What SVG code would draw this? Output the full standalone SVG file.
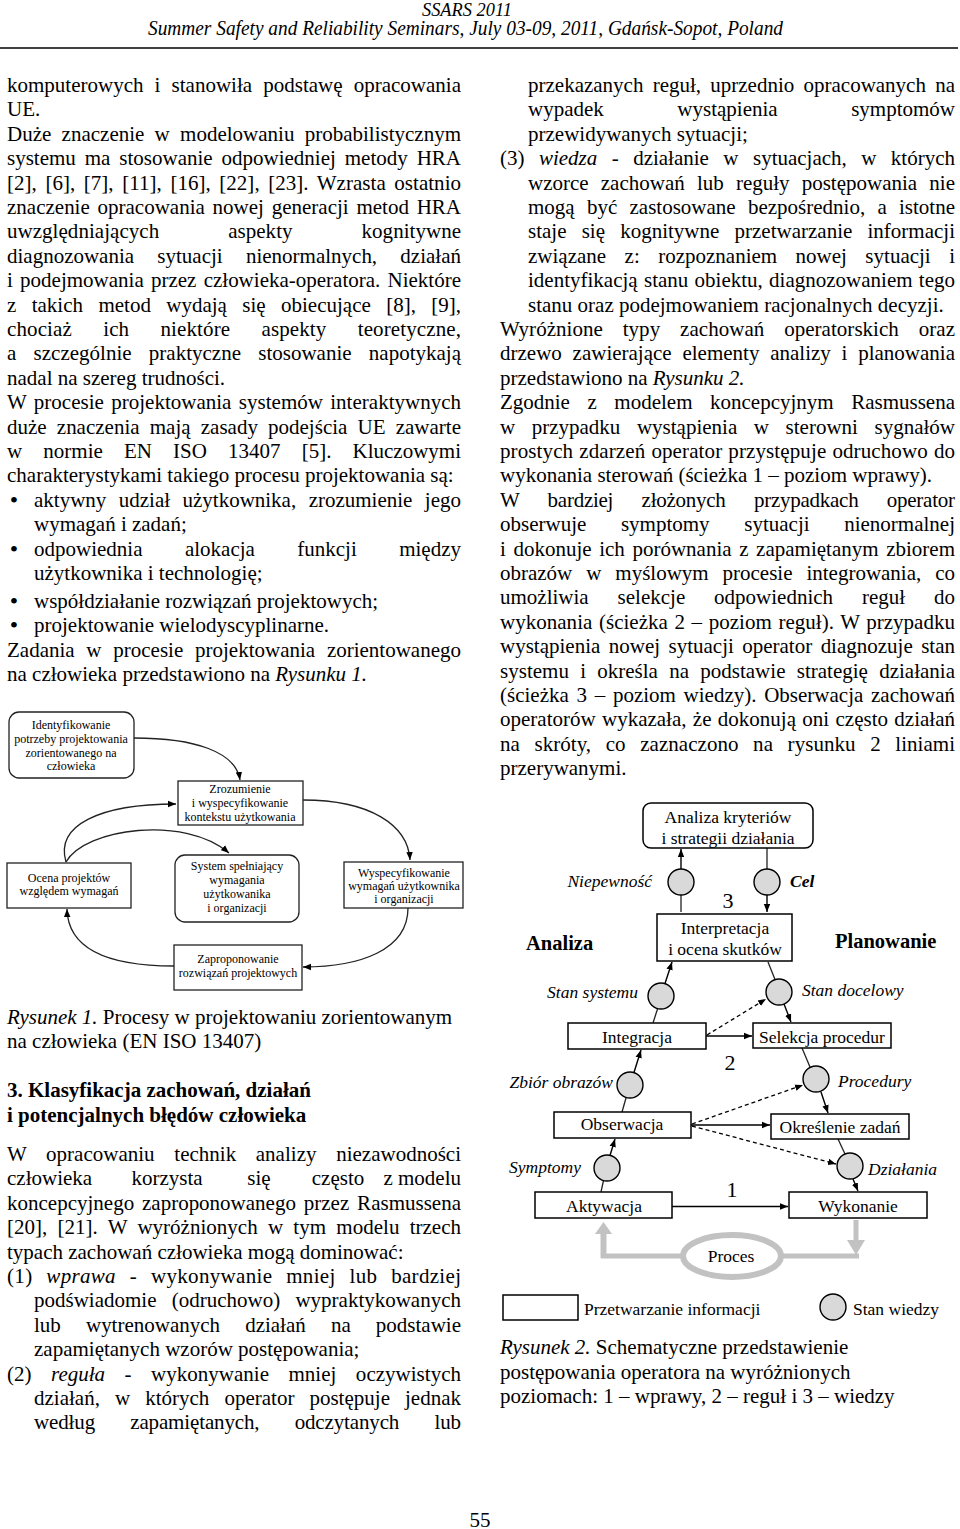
<svg xmlns="http://www.w3.org/2000/svg" width="960" height="1529" viewBox="0 0 960 1529">
<style>
text{font-family:"Liberation Serif","Times New Roman",serif;fill:#000}
.t{font-size:21px}
.i{font-style:italic}
.b{font-weight:bold}
.s{font-size:12px;text-anchor:middle}
.f{font-size:17.5px}
.m{text-anchor:middle}
.e{text-anchor:end}
.box{fill:#fff;stroke:#222;stroke-width:1.3}
.box2{fill:#fff;stroke:#000;stroke-width:1.5}
.ks{fill:#d9d9d9;stroke:#000;stroke-width:1.4}
.ln{fill:none;stroke:#222;stroke-width:1.3}
.ar{fill:none;stroke:#000;stroke-width:1.4;marker-end:url(#a)}
.ar1{fill:none;stroke:#222;stroke-width:1.3;marker-end:url(#a)}
.da{fill:none;stroke:#000;stroke-width:1.3;stroke-dasharray:4 3;marker-end:url(#a)}
.gr{fill:none;stroke:#c2c2c2}
</style>
<defs>
<marker id="a" viewBox="0 0 10 10" refX="10" refY="5" markerWidth="8" markerHeight="8" markerUnits="userSpaceOnUse" orient="auto"><path d="M0,1 L10,5 L0,9 z" fill="#000"/></marker>
</defs>
<rect width="960" height="1529" fill="#fff"/>

<!-- header -->
<g id="header">
<text class="i" x="422" y="16" font-size="19" textLength="90" lengthAdjust="spacingAndGlyphs">SSARS 2011</text>
<text class="i" x="148" y="35" font-size="20" textLength="635" lengthAdjust="spacingAndGlyphs">Summer Safety and Reliability Seminars, July 03-09, 2011, Gdańsk-Sopot, Poland</text>
<line x1="0" y1="48" x2="958" y2="48" stroke="#000" stroke-width="1.5"/>
</g>

<!-- left column -->
<g id="left-column" class="t">
<text x="7" y="92" word-spacing="5.9" textLength="454" lengthAdjust="spacing">komputerowych i stanowiła podstawę opracowania</text>
<text x="7" y="116.4">UE.</text>
<text x="7" y="140.8" word-spacing="5" textLength="454" lengthAdjust="spacing">Duże znaczenie w modelowaniu probabilistycznym</text>
<text x="7" y="165.2" word-spacing="3.7" textLength="454" lengthAdjust="spacing">systemu ma stosowanie odpowiedniej metody HRA</text>
<text x="7" y="189.6" word-spacing="3.3" textLength="454" lengthAdjust="spacing">[2], [6], [7], [11], [16], [22], [23]. Wzrasta ostatnio</text>
<text x="7" y="214" word-spacing="2.5" textLength="454" lengthAdjust="spacing">znaczenie opracowania nowej generacji metod HRA</text>
<text x="7" y="238.4" word-spacing="63.7" textLength="454" lengthAdjust="spacing">uwzględniających aspekty kognitywne</text>
<text x="7" y="262.8" word-spacing="18" textLength="454" lengthAdjust="spacing">diagnozowania sytuacji nienormalnych, działań</text>
<text x="7" y="287.2" word-spacing="2" textLength="454" lengthAdjust="spacing">i podejmowania przez człowieka-operatora. Niektóre</text>
<text x="7" y="311.6" word-spacing="10.1" textLength="454" lengthAdjust="spacing">z takich metod wydają się obiecujące [8], [9],</text>
<text x="7" y="336" word-spacing="25.9" textLength="454" lengthAdjust="spacing">chociaż ich niektóre aspekty teoretyczne,</text>
<text x="7" y="360.4" word-spacing="12" textLength="454" lengthAdjust="spacing">a szczególnie praktyczne stosowanie napotykają</text>
<text x="7" y="384.8">nadal na szereg trudności.</text>
<text x="7" y="409.2" word-spacing="2.1" textLength="454" lengthAdjust="spacing">W procesie projektowania systemów interaktywnych</text>
<text x="7" y="433.6" word-spacing="4.9" textLength="454" lengthAdjust="spacing">duże znaczenia mają zasady podejścia UE zawarte</text>
<text x="7" y="458" word-spacing="15.9" textLength="454" lengthAdjust="spacing">w normie EN ISO 13407 [5]. Kluczowymi</text>
<text x="7" y="482.4">charakterystykami takiego procesu projektowania są:</text>
<text x="14" y="507.8" class="m" font-size="24">•</text>
<text x="34" y="506.8" word-spacing="7.2" textLength="427" lengthAdjust="spacing">aktywny udział użytkownika, zrozumienie jego</text>
<text x="34" y="531.2">wymagań i zadań;</text>
<text x="14" y="556.6" class="m" font-size="24">•</text>
<text x="34" y="555.6" word-spacing="37.1" textLength="427" lengthAdjust="spacing">odpowiednia alokacja funkcji między</text>
<text x="34" y="580">użytkownika i technologię;</text>
<text x="14" y="609" class="m" font-size="24">•</text>
<text x="34" y="608">współdziałanie rozwiązań projektowych;</text>
<text x="14" y="633.4" class="m" font-size="24">•</text>
<text x="34" y="632.4">projektowanie wielodyscyplinarne.</text>
<text x="7" y="656.8" word-spacing="6.5" textLength="454" lengthAdjust="spacing">Zadania w procesie projektowania zorientowanego</text>
<text x="7" y="681.2">na człowieka przedstawiono na <tspan class="i">Rysunku 1.</tspan></text>

<text x="7" y="1024"><tspan class="i">Rysunek 1.</tspan> Procesy w projektowaniu zorientowanym</text>
<text x="7" y="1048">na człowieka (EN ISO 13407)</text>
<text x="7" y="1097" class="b">3. Klasyfikacja zachowań, działań</text>
<text x="7" y="1122" class="b">i potencjalnych błędów człowieka</text>

<text x="7" y="1161" word-spacing="14.4" textLength="454" lengthAdjust="spacing">W opracowaniu technik analizy niezawodności</text>
<text x="7" y="1185.4">człowieka</text>
<text x="167" y="1185.4" class="m">korzysta</text>
<text x="259" y="1185.4" class="m">się</text>
<text x="338" y="1185.4" class="m">często</text>
<text x="461" y="1185.4" class="e">z modelu</text>
<text x="7" y="1209.8" word-spacing="2.6" textLength="454" lengthAdjust="spacing">koncepcyjnego zaproponowanego przez Rasmussena</text>
<text x="7" y="1234.2" word-spacing="5" textLength="454" lengthAdjust="spacing">[20], [21]. W wyróżnionych w tym modelu trzech</text>
<text x="7" y="1258.6">typach zachowań człowieka mogą dominować:</text>
<text x="7" y="1283" word-spacing="8.3" textLength="454" lengthAdjust="spacing">(1) <tspan class="i">wprawa</tspan> - wykonywanie mniej lub bardziej</text>
<text x="34" y="1307.4" word-spacing="10" textLength="427" lengthAdjust="spacing">podświadomie (odruchowo) wypraktykowanych</text>
<text x="34" y="1331.8" word-spacing="19.9" textLength="427" lengthAdjust="spacing">lub wytrenowanych działań na podstawie</text>
<text x="34" y="1356.2">zapamiętanych wzorów postępowania;</text>
<text x="7" y="1380.6" word-spacing="14.2" textLength="454" lengthAdjust="spacing">(2) <tspan class="i">reguła</tspan> - wykonywanie mniej oczywistych</text>
<text x="34" y="1405" word-spacing="9.8" textLength="427" lengthAdjust="spacing">działań, w których operator postępuje jednak</text>
<text x="34" y="1429.4" word-spacing="30.1" textLength="427" lengthAdjust="spacing">według zapamiętanych, odczytanych lub</text>
</g>

<!-- right column -->
<g id="right-column" class="t">
<text x="528" y="92" word-spacing="4" textLength="427" lengthAdjust="spacing">przekazanych reguł, uprzednio opracowanych na</text>
<text x="528" y="116.4" word-spacing="68.3" textLength="427" lengthAdjust="spacing">wypadek wystąpienia symptomów</text>
<text x="528" y="140.8">przewidywanych sytuacji;</text>
<text x="500" y="165.2" word-spacing="9.2" textLength="455" lengthAdjust="spacing">(3) <tspan class="i">wiedza</tspan> - działanie w sytuacjach, w których</text>
<text x="528" y="189.6" word-spacing="6.9" textLength="427" lengthAdjust="spacing">wzorce zachowań lub reguły postępowania nie</text>
<text x="528" y="214" word-spacing="7" textLength="427" lengthAdjust="spacing">mogą być zastosowane bezpośrednio, a istotne</text>
<text x="528" y="238.4" word-spacing="9.9" textLength="427" lengthAdjust="spacing">staje się kognitywne przetwarzanie informacji</text>
<text x="528" y="262.8" word-spacing="13.2" textLength="427" lengthAdjust="spacing">związane z: rozpoznaniem nowej sytuacji i</text>
<text x="528" y="287.2" word-spacing="1" textLength="427" lengthAdjust="spacing">identyfikacją stanu obiektu, diagnozowaniem tego</text>
<text x="528" y="311.6">stanu oraz podejmowaniem racjonalnych decyzji.</text>
<text x="500" y="336" word-spacing="14.6" textLength="455" lengthAdjust="spacing">Wyróżnione typy zachowań operatorskich oraz</text>
<text x="500" y="360.4" word-spacing="5.5" textLength="455" lengthAdjust="spacing">drzewo zawierające elementy analizy i planowania</text>
<text x="500" y="384.8">przedstawiono na <tspan class="i">Rysunku 2.</tspan></text>
<text x="500" y="409.2" word-spacing="12.3" textLength="455" lengthAdjust="spacing">Zgodnie z modelem koncepcyjnym Rasmussena</text>
<text x="500" y="433.6" word-spacing="11.3" textLength="455" lengthAdjust="spacing">w przypadku wystąpienia w sterowni sygnałów</text>
<text x="500" y="458" word-spacing="0.7" textLength="455" lengthAdjust="spacing">prostych zdarzeń operator przystępuje odruchowo do</text>
<text x="500" y="482.4">wykonania sterowań (ścieżka 1 – poziom wprawy).</text>
<text x="500" y="506.8" word-spacing="23.4" textLength="455" lengthAdjust="spacing">W bardziej złożonych przypadkach operator</text>
<text x="500" y="531.2" word-spacing="29.4" textLength="455" lengthAdjust="spacing">obserwuje symptomy sytuacji nienormalnej</text>
<text x="500" y="555.6" word-spacing="2.35" textLength="455" lengthAdjust="spacing">i dokonuje ich porównania z zapamiętanym zbiorem</text>
<text x="500" y="580" word-spacing="8.7" textLength="455" lengthAdjust="spacing">obrazów w myślowym procesie integrowania, co</text>
<text x="500" y="604.4" word-spacing="23.6" textLength="455" lengthAdjust="spacing">umożliwia selekcje odpowiednich reguł do</text>
<text x="500" y="628.8" word-spacing="1.3" textLength="455" lengthAdjust="spacing">wykonania (ścieżka 2 – poziom reguł). W przypadku</text>
<text x="500" y="653.2" word-spacing="3.2" textLength="455" lengthAdjust="spacing">wystąpienia nowej sytuacji operator diagnozuje stan</text>
<text x="500" y="677.6" word-spacing="6" textLength="455" lengthAdjust="spacing">systemu i określa na podstawie strategię działania</text>
<text x="500" y="702" word-spacing="2.45" textLength="455" lengthAdjust="spacing">(ścieżka 3 – poziom wiedzy). Obserwacja zachowań</text>
<text x="500" y="726.4" word-spacing="1.1" textLength="455" lengthAdjust="spacing">operatorów wykazała, że dokonują oni często działań</text>
<text x="500" y="750.8" word-spacing="9.3" textLength="455" lengthAdjust="spacing">na skróty, co zaznaczono na rysunku 2 liniami</text>
<text x="500" y="775.2">przerywanymi.</text>

<text x="500" y="1354"><tspan class="i">Rysunek 2.</tspan> Schematyczne przedstawienie</text>
<text x="500" y="1379">postępowania operatora na wyróżnionych</text>
<text x="500" y="1403">poziomach: 1 – wprawy, 2 – reguł i 3 – wiedzy</text>
</g>

<text x="480" y="1527" class="t m">55</text>

<!-- Figure 1 connectors -->
<g id="fig1-connectors">
<path class="ar1" d="M134,738 C195,738 236,752 240,780"/>
<path class="ar1" d="M66,862 C55,825 100,804 176,804"/>
<path class="ar1" d="M66,862 C85,828 185,815 229,853"/>
<path class="ar1" d="M303,800 C370,800 408,825 410,860"/>
<path class="ar1" d="M408,908 C408,950 360,967 303,967"/>
<path class="ar1" d="M174,966 C110,966 68,950 67,909"/>
</g>

<!-- Figure 1 nodes -->
<g id="f1-identyfikowanie">
<rect class="box" x="9" y="712" width="125" height="66" rx="10"/>
<text class="s" x="71" y="729">Identyfikowanie</text>
<text class="s" x="71" y="743">potrzeby projektowania</text>
<text class="s" x="71" y="757">zorientowanego na</text>
<text class="s" x="71" y="770">człowieka</text>
</g>
<g id="f1-zrozumienie">
<rect class="box" x="178" y="781" width="125" height="44"/>
<text class="s" x="240" y="793">Zrozumienie</text>
<text class="s" x="240" y="807">i wyspecyfikowanie</text>
<text class="s" x="240" y="821">kontekstu użytkowania</text>
</g>
<g id="f1-ocena">
<rect class="box" x="7" y="863" width="124" height="45"/>
<text class="s" x="69" y="882">Ocena projektów</text>
<text class="s" x="69" y="895">względem wymagań</text>
</g>
<g id="f1-system">
<rect class="box" x="175" y="855" width="124" height="67" rx="10"/>
<text class="s" x="237" y="870">System spełniający</text>
<text class="s" x="237" y="884">wymagania</text>
<text class="s" x="237" y="898">użytkowanika</text>
<text class="s" x="237" y="912">i organizacji</text>
</g>
<g id="f1-wyspecyfikowanie">
<rect class="box" x="344" y="862" width="119" height="46"/>
<text class="s" x="404" y="877">Wyspecyfikowanie</text>
<text class="s" x="404" y="890">wymagań użytkownika</text>
<text class="s" x="404" y="903">i organizacji</text>
</g>
<g id="f1-zaproponowanie">
<rect class="box" x="174" y="945" width="128" height="45"/>
<text class="s" x="238" y="963">Zaproponowanie</text>
<text class="s" x="238" y="977">rozwiązań projektowych</text>
</g>

<!-- Figure 2 gray process loop -->
<g id="f2-proces">
<path class="gr" stroke-width="5" d="M856,1220 V1242"/>
<polygon points="847,1240 865,1240 856,1255" fill="#c2c2c2"/>
<path class="gr" stroke-width="5" d="M783,1256 H859"/>
<path class="gr" stroke-width="5" d="M682,1256 H601"/>
<path class="gr" stroke-width="6" d="M603.5,1258 V1232"/>
<polygon points="595,1234 612,1234 603.5,1222" fill="#c2c2c2"/>
<ellipse cx="732" cy="1256" rx="49" ry="21" fill="#fff" stroke="#c2c2c2" stroke-width="6"/>
<text class="f m" x="731" y="1262">Proces</text>
</g>

<!-- Figure 2 connectors -->
<g id="fig2-connectors">
<line class="ln" x1="681" y1="912" x2="681" y2="895"/>
<path class="ar" d="M681,869 L681,849"/>
<line class="ln" x1="767" y1="848" x2="767" y2="869"/>
<path class="ar" d="M767,895 L767,912"/>
<line class="ln" x1="653" y1="1023" x2="657.5" y2="1009"/>
<path class="ar" d="M665,983.5 L672,962"/>
<line class="ln" x1="768" y1="962" x2="775" y2="979.5"/>
<path class="ar" d="M784,1004 L791,1022"/>
<path class="ar" d="M706,1036 L752,1036"/>
<path class="da" d="M707,1035 L766,999"/>
<line class="ln" x1="622" y1="1112" x2="626" y2="1098"/>
<path class="ar" d="M634,1072.5 L641,1050"/>
<line class="ln" x1="802" y1="1048" x2="810" y2="1067"/>
<path class="ar" d="M821,1092 L828,1113"/>
<path class="da" d="M692,1124 L803,1085"/>
<path class="ar" d="M691,1125 L770,1125"/>
<path class="da" d="M692,1126 L836,1164"/>
<line class="ln" x1="838" y1="1139" x2="845" y2="1154"/>
<path class="ar" d="M853,1179 L858,1191"/>
<line class="ln" x1="601" y1="1192" x2="603.5" y2="1180.5"/>
<path class="ar" d="M610,1155.5 L615,1139"/>
<path class="ar" d="M672,1206.5 L788,1206.5"/>
</g>

<!-- Figure 2 nodes -->
<g id="f2-analiza-kryteriow">
<rect class="box2" x="643" y="803" width="170" height="45" rx="8"/>
<text class="f m" x="728" y="823">Analiza kryteriów</text>
<text class="f m" x="728" y="844">i strategii działania</text>
</g>
<g id="f2-niepewnosc">
<circle class="ks" cx="681" cy="882" r="13"/>
<text class="f i e" x="652" y="887">Niepewność</text>
</g>
<g id="f2-cel">
<circle class="ks" cx="767" cy="882" r="13"/>
<text class="f i b" x="790" y="887">Cel</text>
</g>
<text class="m" x="728" y="908" font-size="22">3</text>
<g id="f2-interpretacja">
<rect class="box2" x="657" y="914" width="135" height="47"/>
<text class="f m" x="725" y="934">Interpretacja</text>
<text class="f m" x="725" y="955">i ocena skutków</text>
</g>
<text class="b" x="526" y="950" font-size="20.5">Analiza</text>
<text class="b" x="835" y="948" font-size="20.5">Planowanie</text>
<g id="f2-stan-systemu">
<circle class="ks" cx="661" cy="996" r="13"/>
<text class="f i e" x="638" y="998">Stan systemu</text>
</g>
<g id="f2-stan-docelowy">
<circle class="ks" cx="779" cy="992" r="13"/>
<text class="f i" x="802" y="996">Stan docelowy</text>
</g>
<g id="f2-integracja">
<rect class="box2" x="568" y="1023" width="138" height="26"/>
<text class="f m" x="637" y="1043">Integracja</text>
</g>
<g id="f2-selekcja">
<rect class="box2" x="753" y="1023" width="138" height="25"/>
<text class="f m" x="822" y="1043">Selekcja procedur</text>
</g>
<text class="m" x="730" y="1070" font-size="22">2</text>
<g id="f2-zbior-obrazow">
<circle class="ks" cx="630" cy="1085" r="13"/>
<text class="f i e" x="613" y="1088">Zbiór obrazów</text>
</g>
<g id="f2-procedury">
<circle class="ks" cx="816" cy="1079" r="13"/>
<text class="f i" x="838" y="1087">Procedury</text>
</g>
<g id="f2-obserwacja">
<rect class="box2" x="554" y="1112" width="137" height="26"/>
<text class="f m" x="622" y="1130">Obserwacja</text>
</g>
<g id="f2-okreslenie">
<rect class="box2" x="771" y="1114" width="138" height="25"/>
<text class="f m" x="840" y="1133">Określenie zadań</text>
</g>
<g id="f2-symptomy">
<circle class="ks" cx="607" cy="1168" r="13"/>
<text class="f i e" x="581" y="1173">Symptomy</text>
</g>
<g id="f2-dzialania">
<circle class="ks" cx="850" cy="1166" r="13"/>
<text class="f i" x="868" y="1175">Działania</text>
</g>
<text class="m" x="732" y="1197" font-size="22">1</text>
<g id="f2-aktywacja">
<rect class="box2" x="535" y="1192" width="137" height="26"/>
<text class="f m" x="604" y="1212">Aktywacja</text>
</g>
<g id="f2-wykonanie">
<rect class="box2" x="789" y="1192" width="138" height="26"/>
<text class="f m" x="858" y="1212">Wykonanie</text>
</g>
<g id="f2-legend">
<rect class="box2" x="503" y="1295" width="75" height="25"/>
<text class="f" x="584" y="1315">Przetwarzanie informacji</text>
<circle class="ks" cx="833" cy="1307" r="13"/>
<text class="f" x="853" y="1315">Stan wiedzy</text>
</g>
</svg>
